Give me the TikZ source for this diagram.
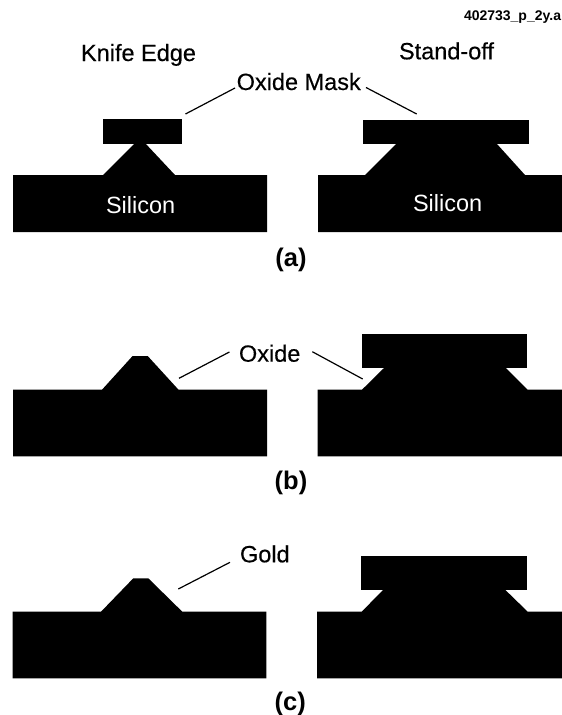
\documentclass[tikz,border=0pt]{standalone}
\usepackage{fontspec}
\setmainfont{Liberation Sans}
\newfontfamily\heavyfont[RawFeature={embolden=0.35}]{Liberation Sans}
\tikzset{
  solid shape/.style={fill=black,draw=none},
  leader/.style={draw=black,line width=1.2pt},
  lab/.style={anchor=base west,inner sep=0pt,outer sep=0pt,font=\heavyfont\fontsize{23.5}{26}\selectfont},
  sil/.style={anchor=base west,inner sep=0pt,outer sep=0pt,font=\fontsize{23.5}{26}\selectfont,text=white},
  partlab/.style={anchor=base,inner sep=0pt,outer sep=0pt,font=\fontsize{25.5}{28}\selectfont\bfseries},
  idlab/.style={anchor=base west,inner sep=0pt,outer sep=0pt,font=\fontsize{14}{16}\selectfont\bfseries}
}
\begin{document}
\begin{tikzpicture}[x=1pt,y=-1pt]
\useasboundingbox[fill=white] (0,0) rectangle (562,715);
% panel a
\fill[solid shape] (13,175) -- (103,175) -- (135,143) -- (135,135) -- (145,135) -- (145,143) -- (175,175) -- (267,175) -- (267,232) -- (13,232) -- cycle;
\fill[solid shape] (102.5,119) rectangle (181.5,143.5);
\fill[solid shape] (318,175) -- (365,175) -- (396,144) -- (396,135) -- (497,135) -- (497,144) -- (525,175) -- (562,175) -- (562,232) -- (318,232) -- cycle;
\fill[solid shape] (363,119.5) rectangle (529,144);
% panel b
\fill[solid shape] (13,389.7) -- (102,389.7) -- (132.6,356) -- (147.7,356) -- (178.5,389.7) -- (267,389.7) -- (267,456.3) -- (13,456.3) -- cycle;
\fill[solid shape] (317.6,389.7) -- (362,389.7) -- (384,368) -- (384,360) -- (506,360) -- (506,368) -- (527.6,389.7) -- (562,389.7) -- (562,456.3) -- (317.6,456.3) -- cycle;
\fill[solid shape] (361.5,334) rectangle (527,368);
% panel c
\fill[solid shape] (12.5,611.7) -- (101,611.7) -- (133.3,578.3) -- (148.3,578.3) -- (182.3,611.7) -- (266.3,611.7) -- (266.3,678.3) -- (12.5,678.3) -- cycle;
\fill[solid shape] (317,611.7) -- (361.7,611.7) -- (382.7,590.3) -- (382.7,582) -- (505.7,582) -- (505.7,590.3) -- (527.7,611.7) -- (562,611.7) -- (562,678.3) -- (317,678.3) -- cycle;
\fill[solid shape] (360.7,556.3) rectangle (526.7,590.3);
% labels
\node[idlab] (id) at (464,20.7) {402733\_p\_2y.a};
\node[lab] (knife) at (81,61) {Knife Edge};
\node[lab] (stand) at (399,59.3) {Stand-off};
\node[lab] (mask) at (236.7,90) {Oxide Mask};
\node[sil] (si1) at (106,213) {Silicon};
\node[sil] (si2) at (413,211.7) {Silicon};
\node[partlab] (pa) at (291,266) {(a)};
\node[lab] (oxide) at (239,361.7) {Oxide};
\node[partlab] (pb) at (291,489) {(b)};
\node[lab] (gold) at (240,562.3) {Gold};
\node[partlab] (pc) at (290.2,710) {(c)};
% leaders
\coordinate (a1s) at (235,88);   \coordinate (a1e) at (185.5,114);
\coordinate (a2s) at (366,87.5); \coordinate (a2e) at (416.7,114);
\coordinate (b1s) at (229.4,352);\coordinate (b1e) at (179,378.3);
\coordinate (b2s) at (312.3,351.7);  \coordinate (b2e) at (362.7,379);
\coordinate (c1s) at (230,562.3);\coordinate (c1e) at (178.3,589);
\draw[leader] (a1s) -- (a1e);
\draw[leader] (a2s) -- (a2e);
\draw[leader] (b1s) -- (b1e);
\draw[leader] (b2s) -- (b2e);
\draw[leader] (c1s) -- (c1e);
\end{tikzpicture}
\end{document}
